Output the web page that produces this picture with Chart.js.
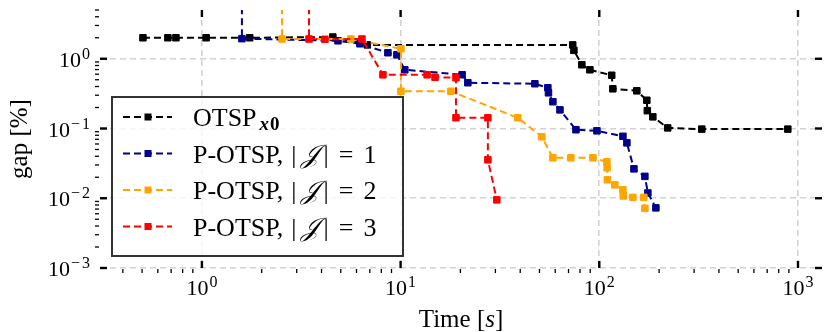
<!DOCTYPE html>
<html>
<head>
<meta charset="utf-8">
<script src="https://cdn.jsdelivr.net/npm/chart.js@4.4.1/dist/chart.umd.min.js"></script>
<style>
  html, body { margin: 0; padding: 0; background: #fff; }
  #wrap { width: 830px; height: 332px; }
</style>
</head>
<body>
<div id="wrap"><canvas id="gapChart" width="830" height="332"></canvas></div>
<script>
// Time [s] and gap [%] per series
const otspTime = [0.505, 0.674, 0.74, 1.05, 1.74, 4.56, 6.8, 73.5, 74.5, 81.7, 89.7, 115.5, 117, 154.5, 173.5, 174.5, 186, 221, 328, 889];
const otspGap = [2.0, 2.0, 2.0, 2.0, 2.0, 2.05, 1.58, 1.58, 1.32, 0.82, 0.695, 0.58, 0.371, 0.347, 0.254, 0.18, 0.147, 0.102, 0.098, 0.098];

const p1Time = [1.59, 1.59, 4.84, 6.24, 8.63, 9.58, 10.5, 20.4, 21.8, 47.4, 55.1, 55.5, 58.4, 63.4, 76.3, 97.3, 131.5, 137.7, 149.4, 169.6, 175.6, 192.7];
const p1Gap = [100, 1.94, 1.81, 1.64, 1.22, 1.14, 0.695, 0.59, 0.453, 0.438, 0.384, 0.325, 0.242, 0.185, 0.096, 0.0927, 0.0773, 0.0623, 0.0264, 0.0206, 0.0119, 0.00728];

const p2Time = [2.53, 2.53, 5.62, 10.04, 10.04, 17.9, 38.9, 51.4, 58.4, 71.9, 92.9, 109.2, 109.5, 109.8, 119.7, 131.5, 132, 147.6, 167.6, 169.6];
const p2Gap = [100, 1.92, 1.92, 1.39, 0.342, 0.342, 0.1425, 0.076, 0.038, 0.038, 0.038, 0.0333, 0.0273, 0.0184, 0.01556, 0.0132, 0.0108, 0.0103, 0.0103, 0.00716];

const p3Time = [3.46, 3.46, 4.16, 6.39, 8.15, 13.6, 14.9, 19.0, 19.0, 27.5, 27.5, 30.5];
const p3Gap = [100, 1.92, 1.9, 1.92, 0.589, 0.589, 0.543, 0.534, 0.1425, 0.1425, 0.0356, 0.00948];

const xMajor = [1, 10, 100, 1000];
const yMajor = [0.001, 0.01, 0.1, 1];
const xExponents = ["0", "1", "2", "3"];
const yExponents = ["\u22123", "\u22122", "\u22121", "0"];

const colors = ["#000000", "#00008b", "#ffa500", "#ff0000"];
const serif = "'Liberation Serif', 'DejaVu Serif', serif";

const toPoints = (ts, gs) => ts.map((t, i) => ({ x: t, y: gs[i] }));

const makeSet = (label, ts, gs, color, order) => ({
  label,
  data: toPoints(ts, gs),
  borderColor: color,
  backgroundColor: color,
  borderWidth: 2,
  borderDash: [7, 4],
  pointStyle: "rect",
  pointRadius: 4.6,
  pointBorderWidth: 1,
  tension: 0,
  order,
});

// minor tick values 2..9 x 10^d inside [min, max]
const minorValues = (min, max) => {
  const out = [];
  for (let d = Math.floor(Math.log10(min)); d <= Math.ceil(Math.log10(max)); d++) {
    for (let k = 2; k <= 9; k++) {
      const v = k * Math.pow(10, d);
      if (v >= min && v <= max) out.push(v);
    }
  }
  return out;
};

const line = (ctx, x1, y1, x2, y2) => {
  ctx.beginPath();
  ctx.moveTo(x1, y1);
  ctx.lineTo(x2, y2);
  ctx.stroke();
};

// draws "10" with a raised exponent, anchored by align
const drawPower = (ctx, exp, x, baseline, align) => {
  ctx.font = `22px ${serif}`;
  const wBase = ctx.measureText("10").width;
  ctx.font = `16px ${serif}`;
  const wExp = ctx.measureText(exp).width + (exp.length > 1 ? 2 : 0);
  const total = wBase + 1 + wExp;
  let left = x;
  if (align === "center") left = x - total / 2;
  if (align === "right") left = x - total;
  ctx.textAlign = "left";
  ctx.textBaseline = "alphabetic";
  ctx.font = `22px ${serif}`;
  ctx.fillText("10", left, baseline);
  ctx.font = `16px ${serif}`;
  if (exp.length > 1) {
    ctx.fillText(exp[0], left + wBase + 1, baseline - 8);
    ctx.fillText(exp.slice(1), left + wBase + 3 + ctx.measureText(exp[0]).width, baseline - 8);
  } else {
    ctx.fillText(exp, left + wBase + 1, baseline - 8);
  }
};

const decorPlugin = {
  id: "decor",
  afterDraw(chart) {
    const { ctx, chartArea: a, scales } = chart;
    const xs = scales.x;
    const ys = scales.y;
    ctx.save();
    ctx.strokeStyle = "#000";
    ctx.fillStyle = "#000";
    ctx.setLineDash([]);

    // major ticks point inward on all four sides
    ctx.lineWidth = 2.4;
    xMajor.forEach((v) => {
      const px = xs.getPixelForValue(v);
      line(ctx, px, a.bottom, px, a.bottom - 7);
      line(ctx, px, a.top, px, a.top + 7);
    });
    yMajor.forEach((v) => {
      const py = ys.getPixelForValue(v);
      line(ctx, a.left, py, a.left + 7, py);
      line(ctx, a.right, py, a.right - 7, py);
    });

    // minor ticks only on bottom and left, outward
    ctx.lineWidth = 1.3;
    minorValues(xs.min, xs.max).forEach((v) => {
      const px = xs.getPixelForValue(v);
      line(ctx, px, a.bottom + 1, px, a.bottom + 5);
    });
    minorValues(ys.min, ys.max).forEach((v) => {
      const py = ys.getPixelForValue(v);
      line(ctx, a.left - 1, py, a.left - 5, py);
    });

    // tick labels
    xMajor.forEach((v, i) => {
      drawPower(ctx, xExponents[i], xs.getPixelForValue(v), a.bottom + 27, "center");
    });
    yMajor.forEach((v, i) => {
      drawPower(ctx, yExponents[i], a.left - 10, ys.getPixelForValue(v) + 8, "right");
    });

    // axis titles
    ctx.font = `25px ${serif}`;
    const t1 = "Time [";
    const w1 = ctx.measureText(t1).width;
    ctx.font = `italic 25px ${serif}`;
    const w2 = ctx.measureText("s").width;
    ctx.font = `25px ${serif}`;
    const w3 = ctx.measureText("]").width;
    const tx = (a.left + a.right) / 2 - (w1 + w2 + w3) / 2;
    const ty = a.bottom + 59;
    ctx.fillText(t1, tx, ty);
    ctx.font = `italic 25px ${serif}`;
    ctx.fillText("s", tx + w1, ty);
    ctx.font = `25px ${serif}`;
    ctx.fillText("]", tx + w1 + w2, ty);

    ctx.save();
    ctx.translate(27, (a.top + a.bottom) / 2);
    ctx.rotate(-Math.PI / 2);
    ctx.textAlign = "center";
    ctx.fillText("gap [%]", 0, 0);
    ctx.restore();

    // legend box
    const lx = a.left + 12;
    const ly = a.top + 87;
    const lw = 291;
    const lh = 159;
    ctx.fillStyle = "rgba(255,255,255,0.8)";
    ctx.fillRect(lx, ly, lw, lh);
    ctx.strokeStyle = "#333";
    ctx.lineWidth = 2;
    ctx.strokeRect(lx, ly, lw, lh);

    chart.data.datasets.forEach((ds, i) => {
      const cy = ly + 20 + i * 36.5;
      ctx.strokeStyle = ds.borderColor;
      ctx.fillStyle = ds.borderColor;
      ctx.lineWidth = 2;
      ctx.setLineDash(ds.borderDash);
      line(ctx, lx + 11, cy, lx + 60, cy);
      ctx.setLineDash([]);
      ctx.fillRect(lx + 36 - 3.5, cy - 3.5, 7, 7);

      ctx.fillStyle = "#000";
      ctx.textAlign = "left";
      let x = lx + 81;
      const base = cy + 9;
      if (i === 0) {
        ctx.font = `26px ${serif}`;
        ctx.fillText("OTSP", x, base);
        x += ctx.measureText("OTSP").width + 3;
        ctx.font = `bold italic 19px ${serif}`;
        ctx.fillText("x", x, base + 4);
        x += ctx.measureText("x").width + 1;
        ctx.font = `bold 19px ${serif}`;
        ctx.fillText("0", x, base + 4);
      } else {
        // [text, font, gap after]
        const parts = [
          ["P-OTSP,", `26px ${serif}`, 8],
          ["|", `26px ${serif}`, 4],
          ["\ud835\udca5", `italic 26px ${serif}`, 5],
          ["|", `26px ${serif}`, 10],
          ["=", `26px ${serif}`, 10],
          [ds.label.slice(-1), `26px ${serif}`, 0],
        ];
        parts.forEach(([txt, font, gap]) => {
          ctx.font = font;
          ctx.fillText(txt, x, base);
          x += ctx.measureText(txt).width + gap;
        });
      }
    });
    ctx.restore();
  },
};

const gridOpts = { color: "#d2d2d2", lineWidth: 1.6, drawTicks: false };
const borderOpts = { display: false, dash: [6, 4] };

new Chart(document.getElementById("gapChart"), {
  type: "line",
  data: {
    datasets: [
      makeSet("OTSP x0", otspTime, otspGap, colors[0], 3),
      makeSet("P-OTSP, |J| = 1", p1Time, p1Gap, colors[1], 2),
      makeSet("P-OTSP, |J| = 2", p2Time, p2Gap, colors[2], 1),
      makeSet("P-OTSP, |J| = 3", p3Time, p3Gap, colors[3], 0),
    ],
  },
  options: {
    responsive: false,
    animation: false,
    devicePixelRatio: 1,
    layout: { padding: { left: 100, right: 8, top: 10, bottom: 64 } },
    plugins: { legend: { display: false }, tooltip: { enabled: false } },
    scales: {
      x: {
        type: "logarithmic",
        min: 0.307,
        max: 1321,
        bounds: "data",
        grid: gridOpts,
        border: borderOpts,
        ticks: { display: false },
        afterBuildTicks: (s) => { s.ticks = xMajor.map((v) => ({ value: v })); },
        afterFit: (s) => { s.height = 0; },
      },
      y: {
        type: "logarithmic",
        min: 0.001,
        max: 5.0,
        bounds: "data",
        grid: gridOpts,
        border: borderOpts,
        ticks: { display: false },
        afterBuildTicks: (s) => { s.ticks = yMajor.map((v) => ({ value: v })); },
        afterFit: (s) => { s.width = 0; },
      },
    },
  },
  plugins: [decorPlugin],
});
</script>
</body>
</html>
